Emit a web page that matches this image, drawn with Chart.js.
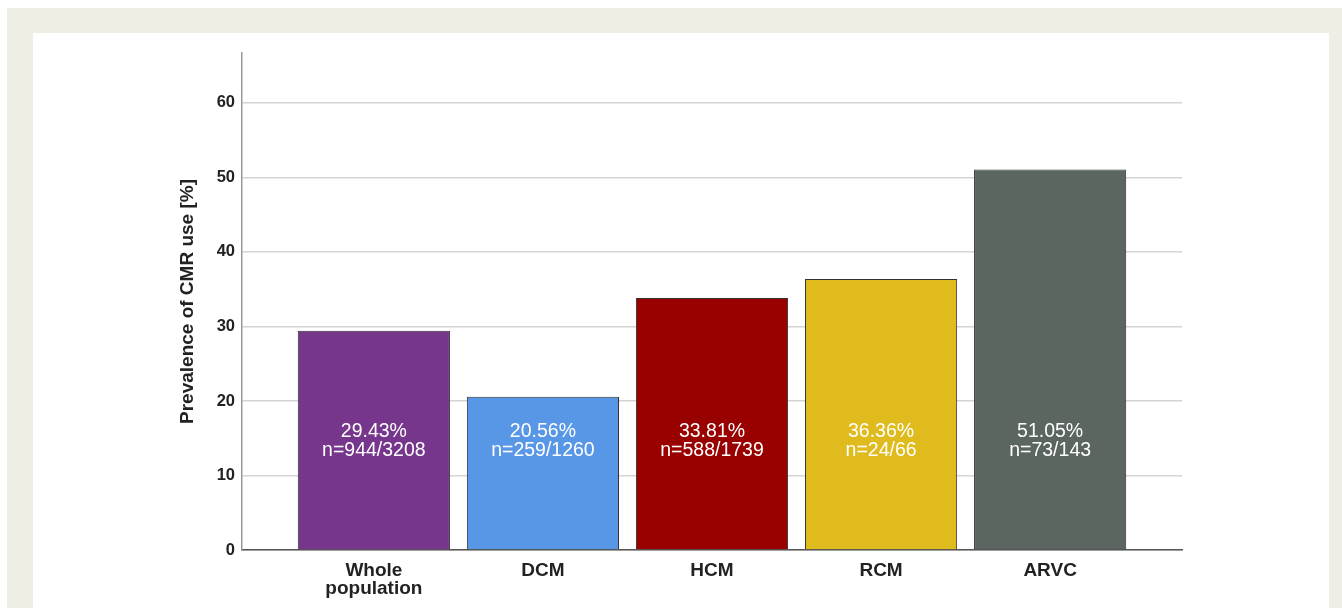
<!DOCTYPE html>
<html>
<head>
<meta charset="utf-8">
<script src="https://cdn.jsdelivr.net/npm/chart.js@4.4.1/dist/chart.umd.min.js"></script>
<style>
    body { margin: 0; background: #ffffff; overflow: hidden; }
    .frame { position: absolute; left: 7px; top: 8px; right: 0; bottom: 0; background: #efeee4; }
    .panel { position: absolute; left: 33px; top: 33px; width: 1296px; bottom: -10px; background: #ffffff; }
    .wrap { position: absolute; left: 0; top: 0; width: 1342px; height: 608px; }
</style>
</head>
<body>
<div class="frame"></div>
<div class="panel"></div>
<div class="wrap"><canvas id="barChartCanvas"></canvas></div>
<script>
    // Data
    const categories = [["Whole", "population"], "DCM", "HCM", "RCM", "ARVC"];
    const prevalence = [29.43, 20.56, 33.81, 36.36, 51.05];
    const countLabels = ["n=944/3208", "n=259/1260", "n=588/1739", "n=24/66", "n=73/143"];
    const yTicks = [0, 10, 20, 30, 40, 50, 60];
    const barColors = ["#76368b", "#5797e5", "#990000", "#e0bb1e", "#5a665f"];

    const fontFamily = "'Liberation Sans', Arial, sans-serif";

    // Tulisan di dalam batang
    const barTextPlugin = {
        id: "barText",
        afterDatasetsDraw(chart) {
            const ctx = chart.ctx;
            const yScale = chart.scales.y;
            const meta = chart.getDatasetMeta(0);
            const yMid = yScale.getPixelForValue(14.6);
            ctx.save();
            ctx.fillStyle = "#ffffff";
            ctx.font = "19.5px " + fontFamily;
            ctx.textAlign = "center";
            ctx.textBaseline = "middle";
            meta.data.forEach((bar, i) => {
                ctx.fillText(prevalence[i].toFixed(2) + "%", bar.x, yMid - 9.5);
                ctx.fillText(countLabels[i], bar.x, yMid + 9.5);
            });
            ctx.restore();
        },
    };

    const ctx = document.getElementById("barChartCanvas").getContext("2d");
    new Chart(ctx, {
        type: "bar",
        data: {
            datasets: [
                {
                    data: prevalence.map((v, i) => ({ x: i, y: v })),
                    backgroundColor: barColors,
                    borderColor: "#333333",
                    borderWidth: 1,
                    categoryPercentage: 1,
                    barPercentage: 0.9,
                },
            ],
        },
        options: {
            responsive: true,
            maintainAspectRatio: false,
            animation: false,
            devicePixelRatio: 1,
            layout: {
                padding: { left: 172, top: 53, right: 160, bottom: 0 },
            },
            plugins: {
                legend: { display: false },
                tooltip: { enabled: false },
            },
            scales: {
                x: {
                    type: "linear",
                    offset: false,
                    min: -0.78,
                    max: 4.78,
                    afterFit: (scale) => { scale.height = 58; },
                    afterBuildTicks: (scale) => {
                        scale.ticks = categories.map((_, i) => ({ value: i }));
                    },
                    grid: { display: false, drawTicks: false },
                    border: { color: "#555555", width: 1.5 },
                    ticks: {
                        autoSkip: false,
                        maxRotation: 0,
                        padding: 12,
                        color: "#222222",
                        font: { family: fontFamily, size: 19, weight: "bold", lineHeight: 0.93 },
                        callback: (value) => categories[value],
                    },
                },
                y: {
                    min: 0,
                    max: 66.7,
                    afterFit: (scale) => { scale.width = 70; },
                    afterBuildTicks: (scale) => {
                        scale.ticks = yTicks.map((v) => ({ value: v }));
                    },
                    grid: { color: "#d4d4d4", lineWidth: 1.5, drawTicks: false },
                    border: { color: "#999999", width: 1.5 },
                    ticks: {
                        padding: 7,
                        color: "#222222",
                        font: { family: fontFamily, size: 16.5, weight: "bold" },
                    },
                    title: {
                        display: true,
                        text: "Prevalence of CMR use [%]",
                        color: "#222222",
                        padding: { top: 4, bottom: 0 },
                        font: { family: fontFamily, size: 19, weight: "bold" },
                    },
                },
            },
        },
        plugins: [barTextPlugin],
    });
</script>
</body>
</html>
